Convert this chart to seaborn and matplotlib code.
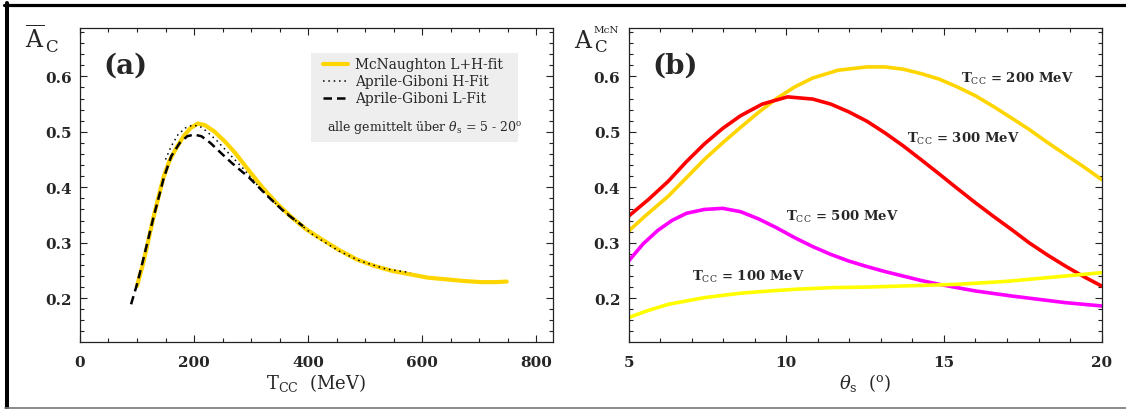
import numpy as np
import pandas as pd
import matplotlib
matplotlib.use("Agg")
import matplotlib.pyplot as plt
import seaborn as sns
from matplotlib.lines import Line2D
from matplotlib.patches import Rectangle
from matplotlib.ticker import MultipleLocator, FormatStrFormatter

# ---------------- data: panel (a) ----------------
mcn_T = [100, 109.6, 119, 128, 138, 147, 156.6, 169, 181.7, 194, 207, 219, 235, 253.6, 272,
         297, 322, 347, 372, 397, 422.6, 454, 485, 516.6, 548, 579, 610, 642, 673, 704, 730, 748]
mcn_A = [0.222, 0.258, 0.300, 0.342, 0.384, 0.420, 0.447, 0.471, 0.492, 0.507, 0.515, 0.512, 0.501,
         0.483, 0.462, 0.429, 0.397, 0.369, 0.345, 0.324, 0.307, 0.287, 0.270, 0.258, 0.249, 0.243,
         0.237, 0.234, 0.231, 0.229, 0.229, 0.230]

agh_T = [150, 160, 172, 185, 197, 210, 222, 241, 260, 285, 310, 335, 372, 410, 454, 491, 535, 579]
agh_A = [0.450, 0.474, 0.495, 0.507, 0.512, 0.510, 0.501, 0.483, 0.462, 0.435, 0.405, 0.378, 0.345,
         0.313, 0.285, 0.267, 0.253, 0.246]

agl_T = [89.6, 100, 109.6, 128, 147, 160, 175, 188, 200, 213, 228.6, 247, 266, 297, 329, 360, 391]
agl_A = [0.189, 0.225, 0.264, 0.342, 0.417, 0.456, 0.480, 0.492, 0.495, 0.492, 0.480, 0.462, 0.444,
         0.417, 0.384, 0.354, 0.330]

# ---------------- data: panel (b) ----------------
th200 = [5, 5.52, 6.26, 6.83, 7.4, 7.98, 8.55, 9.12, 9.69, 10.27, 10.84, 11.64, 12.56, 13.13, 13.7,
         14.27, 14.85, 15.42, 16.0, 16.56, 17.14, 17.71, 18.28, 18.85, 19.43, 20]
a200 = [0.321, 0.348, 0.384, 0.417, 0.450, 0.480, 0.508, 0.535, 0.560, 0.581, 0.597, 0.611, 0.617,
        0.617, 0.613, 0.605, 0.595, 0.581, 0.565, 0.546, 0.525, 0.504, 0.481, 0.459, 0.437, 0.414]

th300 = [5, 5.63, 6.26, 6.83, 7.4, 7.98, 8.55, 9.24, 10.04, 10.84, 11.41, 11.98, 12.56, 13.13, 13.7,
         14.27, 14.85, 15.42, 16.0, 16.56, 17.14, 17.7, 18.28, 18.85, 19.43, 20]
a300 = [0.348, 0.378, 0.411, 0.446, 0.478, 0.506, 0.529, 0.550, 0.563, 0.559, 0.550, 0.536, 0.519,
        0.498, 0.475, 0.450, 0.424, 0.398, 0.372, 0.348, 0.324, 0.300, 0.278, 0.258, 0.239, 0.222]

th500 = [5, 5.46, 5.92, 6.37, 6.83, 7.40, 7.98, 8.55, 9.12, 9.69, 10.27, 10.84, 11.41, 11.98, 12.56,
         13.13, 13.7, 14.27, 14.85, 15.42, 16.0, 17.14, 18.28, 18.85, 20]
a500 = [0.267, 0.298, 0.322, 0.340, 0.353, 0.360, 0.362, 0.356, 0.343, 0.327, 0.309, 0.293, 0.279,
        0.267, 0.257, 0.248, 0.240, 0.232, 0.225, 0.219, 0.213, 0.204, 0.196, 0.192, 0.186]

th100 = [5, 5.57, 6.26, 6.83, 7.4, 8.55, 9.47, 10.27, 11.41, 12.56, 14.27, 15.42, 16.0, 16.91, 17.7,
         18.85, 19.43, 20]
a100 = [0.165, 0.177, 0.189, 0.195, 0.201, 0.209, 0.213, 0.216, 0.219, 0.220, 0.223, 0.225, 0.227,
        0.230, 0.234, 0.240, 0.243, 0.246]

legend_labels = ["McNaughton L+H-fit", "Aprile-Giboni H-Fit", "Aprile-Giboni L-Fit"]
curve_labels = [r"T$_{\mathrm{CC}}$ = 200 MeV", r"T$_{\mathrm{CC}}$ = 300 MeV",
                r"T$_{\mathrm{CC}}$ = 500 MeV", r"T$_{\mathrm{CC}}$ = 100 MeV"]
label_pos = [(15.53, 0.598), (13.82, 0.4895), (9.98, 0.349), (7.0, 0.240)]

# ---------------- style ----------------
sns.set_style("ticks")
plt.rcParams["font.family"] = ["DejaVu Serif"]
plt.rcParams["mathtext.fontset"] = "dejavuserif"

fig = plt.figure(figsize=(11.26, 4.10), dpi=100)
axA = fig.add_axes([0.0710, 0.1634, 0.420, 0.767])
axB = fig.add_axes([0.5583, 0.1634, 0.420, 0.767])

GOLD = "#FFD500"
YEL = "#FFFF00"
RED = "#FF0000"
MAG = "#FF00FF"

# panel (a)
sns.lineplot(x=mcn_T, y=mcn_A, ax=axA, color=GOLD, lw=3.0, sort=False, estimator=None, zorder=2)
sns.lineplot(x=agh_T, y=agh_A, ax=axA, color="black", lw=1.1, sort=False, estimator=None,
             linestyle=(0, (1, 2.5)), zorder=3)
sns.lineplot(x=agl_T, y=agl_A, ax=axA, color="black", lw=1.8, sort=False, estimator=None,
             linestyle=(0, (3.4, 2.0)), zorder=4)
axA.set_xlim(0, 829)
axA.set_ylim(0.121, 0.688)
axA.xaxis.set_major_locator(MultipleLocator(200))
axA.xaxis.set_minor_locator(MultipleLocator(50))

# panel (b)
for th, a, c in [(th200, a200, GOLD), (th300, a300, RED), (th500, a500, MAG), (th100, a100, YEL)]:
    sns.lineplot(x=th, y=a, ax=axB, color=c, lw=2.6, sort=False, estimator=None)
axB.set_xlim(5, 20)
axB.set_ylim(0.121, 0.688)
axB.xaxis.set_major_locator(MultipleLocator(5))
axB.xaxis.set_minor_locator(MultipleLocator(1))
for (x, y), t in zip(label_pos, curve_labels):
    axB.text(x, y, t, fontsize=9.5, fontweight="bold", va="center", ha="left")

for ax in (axA, axB):
    ax.set_yticks([0.2, 0.3, 0.4, 0.5, 0.6])
    ax.yaxis.set_minor_locator(MultipleLocator(0.02))
    ax.yaxis.set_major_formatter(FormatStrFormatter("%.1f"))
    ax.tick_params(which="both", direction="in", top=True, right=True, color="#222222", width=0.8)
    ax.tick_params(which="major", length=5, labelsize=11, pad=6)
    ax.tick_params(axis="x", which="major", pad=9)
    ax.tick_params(which="minor", length=3.2)
    for s in ax.spines.values():
        s.set_linewidth(0.9)
        s.set_color("#222222")
    ax.set_ylabel("")
    for lab in ax.get_xticklabels() + ax.get_yticklabels():
        lab.set_fontweight("bold")

# panel letters
axA.text(0.05, 0.88, "(a)", transform=axA.transAxes, fontsize=20, fontweight="bold", va="center")
axB.text(0.05, 0.88, "(b)", transform=axB.transAxes, fontsize=20, fontweight="bold", va="center")

# axis labels
axA.set_xlabel(r"T$_{\mathrm{CC}}$  (MeV)", fontsize=13, labelpad=2)
axB.set_xlabel(r"$\theta_{\mathrm{s}}$  ($^{\mathrm{o}}$)", fontsize=13, labelpad=2)

W, H = 1126.0, 410.0
fig.text(25 / W, 1 - 48 / H, r"$\overline{\mathrm{A}}$", fontsize=17, ha="left", va="baseline")
fig.text(45 / W, 1 - 52 / H, "C", fontsize=12, ha="left", va="baseline")
fig.text(574 / W, 1 - 48 / H, "A", fontsize=17, ha="left", va="baseline")
fig.text(594 / W, 1 - 52 / H, "C", fontsize=12, ha="left", va="baseline")
fig.text(594 / W, 1 - 33 / H, "McN", fontsize=7.5, ha="left", va="baseline")

# legend panel (a)
axA.add_patch(Rectangle((0.488, 0.636), 0.438, 0.282, transform=axA.transAxes,
                        facecolor="#EEEEEE", edgecolor="none", zorder=1))
handles = [Line2D([], [], color=GOLD, lw=3.0),
           Line2D([], [], color="black", lw=1.1, linestyle=(0, (1, 2.5))),
           Line2D([], [], color="black", lw=1.8, linestyle=(0, (3.4, 2.0)))]
axA.legend(handles, legend_labels, loc="upper left", bbox_to_anchor=(0.513, 0.905),
           frameon=False, fontsize=9.9, handlelength=1.85, handletextpad=0.48,
           labelspacing=0.22, borderpad=0, borderaxespad=0)
axA.text(0.523, 0.684, r"alle gemittelt über $\theta_{\mathrm{s}}$ = 5 - 20$^{\mathrm{o}}$",
         transform=axA.transAxes, fontsize=9, va="center", ha="left", zorder=5)

# figure frame
fig.add_artist(Line2D([4 / W, 1], [1 - 5.5 / H, 1 - 5.5 / H], transform=fig.transFigure,
                      color="black", lw=2.3))
fig.add_artist(Line2D([7 / W, 7 / W], [1.5 / H, 1 - 4 / H], transform=fig.transFigure,
                      color="black", lw=2.9))
fig.add_artist(Line2D([5 / W, 1], [1.5 / H, 1.5 / H], transform=fig.transFigure,
                      color="#777777", lw=1.2))

fig.savefig("out.png", dpi=100)
